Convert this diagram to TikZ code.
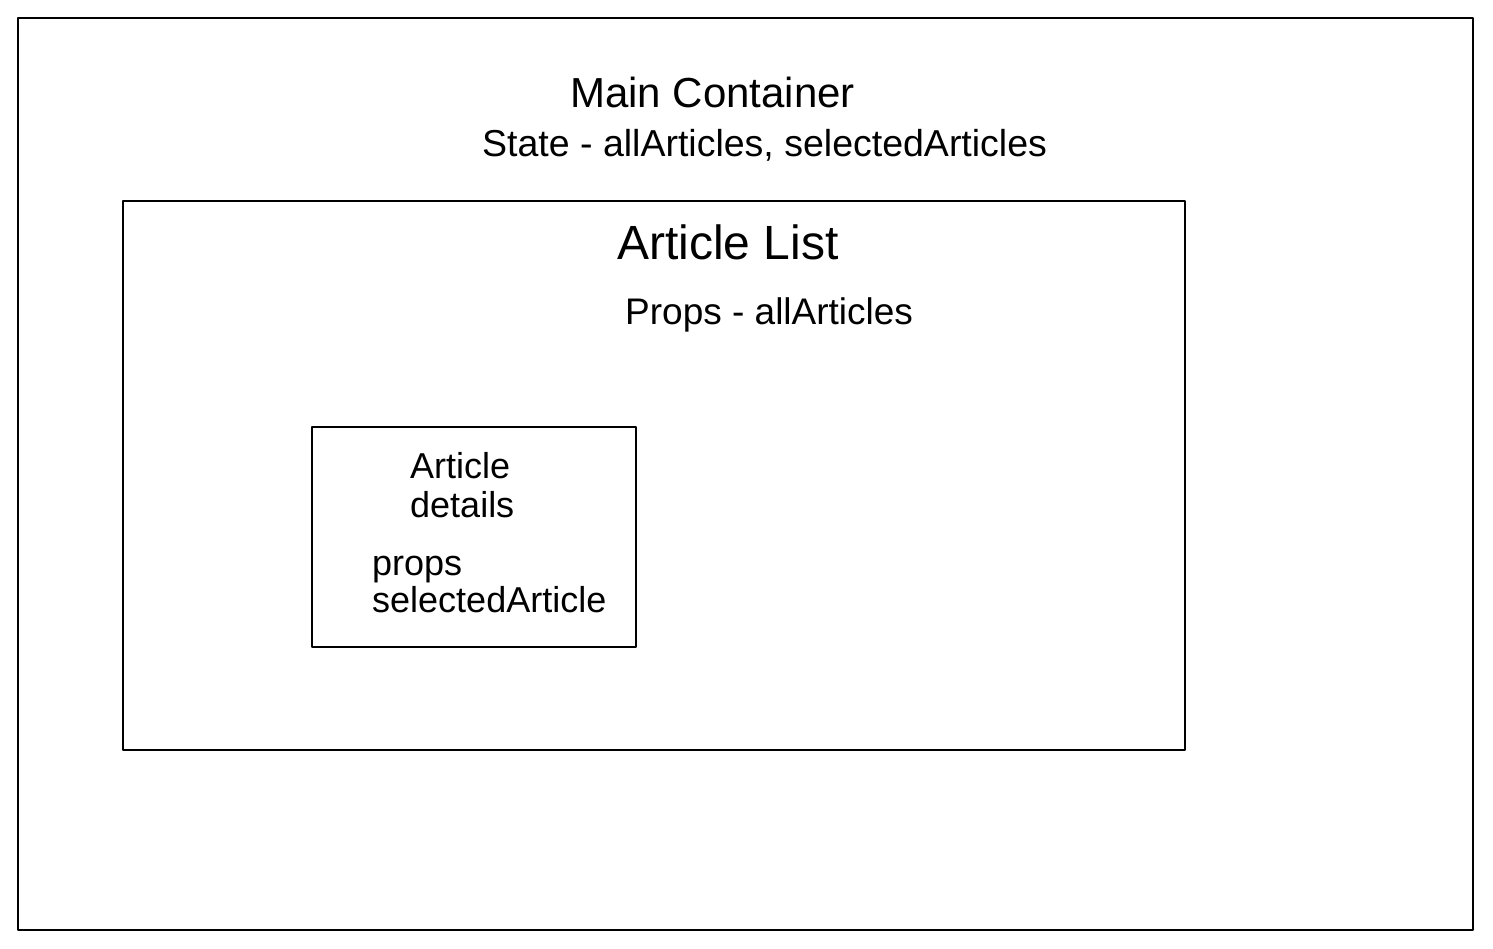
\documentclass[tikz,border=0pt]{standalone}
\usepackage{fontspec}
\setmainfont{Liberation Sans}
\begin{document}
\begin{tikzpicture}[x=1pt,y=-1pt,
  box/.style={draw=black,line width=1.6pt,line join=round},
  lbl/.style={anchor=base west,inner sep=0pt,font=\fontsize{36}{39}\selectfont},
  head/.style={anchor=base west,inner sep=0pt,font=\fontsize{42}{48}\selectfont}]
\useasboundingbox[fill=white] (0,0) rectangle (1493,949);
\draw[box] (18,18) rectangle (1473,930);
\draw[box] (123,201) rectangle (1185,750);
\draw[box] (312,427) rectangle (636,647);
\node[head] (main) at (570,108) {Main Container};
\node[lbl,font=\fontsize{37.5}{42}\selectfont] (state) at (482,157) {State - allArticles, selectedArticles};
\node[anchor=base west,inner sep=0pt,font=\fontsize{48}{52}\selectfont] (list) at (617,260) {Article List};
\node[lbl,font=\fontsize{37}{42}\selectfont] (props) at (625,325) {Props - allArticles};
\node[lbl,align=left] (details) at (410,517) {Article\\details};
\node[lbl,align=left,font=\fontsize{36}{37}\selectfont] (sel) at (372,612) {props\\selectedArticle};
\end{tikzpicture}
\end{document}
